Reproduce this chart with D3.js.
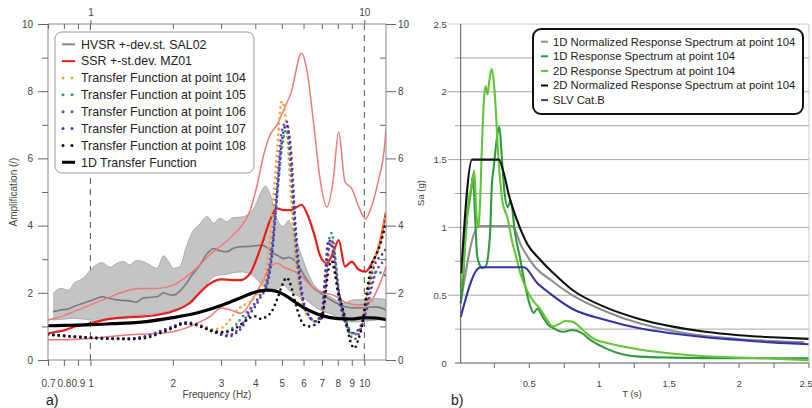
<!DOCTYPE html>
<html>
<head>
<meta charset="utf-8">
<script src="https://cdn.jsdelivr.net/npm/d3@7"></script>
<style>
  body { margin: 0; background: #fff; }
  svg { display: block; font-family: "Liberation Sans", Arial, sans-serif; }
</style>
</head>
<body>
<svg id="chart" width="812" height="408"></svg>
<script>

/**
 * Data, panel a) - amplification vs frequency
 */

const FREQ_TICKS = [0.7, 0.8, 0.9, 1, 2, 3, 4, 5, 6, 7, 8, 9, 10];
const FREQ_MINOR_TOP = [0.7, 0.8, 0.9, 2, 3, 4, 5, 6, 7, 8, 9];
const AMP_TICKS = [0, 2, 4, 6, 8, 10];
const AMP_MINOR = [1, 3, 5, 7, 9];

const hvsrFreq = [0.73, 0.78, 0.83, 0.87, 0.94, 1.0, 1.05, 1.1, 1.18, 1.25, 1.32, 1.39, 1.47, 1.55, 1.63, 1.75, 1.85, 1.93, 2.01, 2.12, 2.24, 2.36, 2.49, 2.67, 2.82, 2.97, 3.14, 3.32, 3.53, 3.8, 4.0, 4.2, 4.35, 4.5, 4.66, 4.86, 5.06, 5.28, 5.5, 5.75, 6.1, 6.5, 6.9, 7.5, 8.4, 9.1, 10.0, 11.1, 12.0];
const hvsrUpper = [1.98, 2.13, 2.08, 2.28, 2.43, 2.68, 2.83, 2.90, 2.76, 2.88, 2.93, 2.83, 2.96, 2.93, 2.85, 2.73, 3.10, 2.93, 2.73, 2.78, 3.37, 3.82, 4.02, 4.27, 4.07, 4.22, 4.12, 4.24, 4.25, 4.35, 4.60, 5.00, 5.18, 5.00, 4.60, 4.10, 3.97, 4.15, 3.87, 3.37, 2.78, 2.28, 2.05, 1.88, 1.69, 1.79, 1.79, 1.83, 1.79];
const hvsrLower = [1.19, 1.21, 1.23, 1.24, 1.22, 1.19, 1.14, 1.20, 1.24, 1.27, 1.29, 1.31, 1.33, 1.35, 1.37, 1.39, 1.42, 1.46, 1.49, 1.55, 1.62, 1.72, 1.95, 2.28, 2.48, 2.53, 2.55, 2.60, 2.62, 2.58, 2.45, 2.25, 2.15, 2.10, 2.08, 2.15, 2.23, 2.10, 1.98, 1.90, 1.80, 1.62, 1.49, 1.38, 1.18, 1.13, 1.15, 1.19, 1.20];
const hvsrMean = [1.44, 1.49, 1.52, 1.59, 1.69, 1.76, 1.83, 1.88, 1.83, 1.79, 1.77, 1.76, 1.72, 1.84, 1.86, 1.88, 2.00, 1.95, 1.93, 2.05, 2.28, 2.55, 2.78, 3.17, 3.32, 3.25, 3.22, 3.32, 3.37, 3.38, 3.40, 3.42, 3.38, 3.30, 3.17, 3.10, 3.02, 3.05, 3.00, 2.80, 2.45, 2.15, 2.00, 1.80, 1.60, 1.55, 1.56, 1.58, 1.49];

const ssrFreq = [0.7, 0.75, 0.8, 0.87, 1.0, 1.15, 1.32, 1.52, 1.75, 2.0, 2.32, 2.49, 2.74, 3.0, 3.3, 3.53, 3.83, 4.06, 4.29, 4.53, 4.8, 5.08, 5.4, 5.9, 6.17, 6.53, 6.9, 7.3, 7.7, 8.06, 8.5, 9.0, 9.5, 10.1, 10.65, 11.3, 11.8, 12.0];
const ssrMean = [0.79, 0.84, 0.88, 0.99, 1.09, 1.21, 1.26, 1.29, 1.34, 1.45, 1.72, 1.98, 2.28, 2.40, 2.38, 2.38, 2.58, 3.05, 3.60, 4.17, 4.51, 4.46, 4.46, 4.62, 4.37, 3.80, 3.10, 2.88, 3.20, 3.57, 2.78, 2.93, 2.70, 2.63, 2.88, 3.37, 4.07, 4.40];
const ssrUpper = [1.19, 1.25, 1.32, 1.44, 1.64, 1.84, 2.03, 2.13, 2.13, 2.23, 2.58, 2.80, 3.15, 3.40, 3.70, 3.95, 4.45, 5.20, 6.10, 6.70, 7.00, 7.45, 7.95, 9.13, 8.63, 7.04, 5.36, 4.55, 5.36, 6.79, 5.30, 5.10, 4.60, 4.20, 4.60, 5.40, 6.20, 6.85];
const ssrLower = [0.60, 0.60, 0.60, 0.61, 0.64, 0.69, 0.74, 0.77, 0.79, 0.84, 1.00, 1.12, 1.30, 1.55, 1.47, 1.39, 1.69, 2.05, 2.40, 2.78, 2.88, 2.76, 2.68, 2.50, 2.33, 2.15, 2.03, 1.98, 1.93, 1.85, 1.72, 1.66, 1.64, 1.66, 1.78, 2.20, 2.60, 2.80];

const tfFreq = [0.7, 0.8, 0.9, 1.0, 1.2, 1.4, 1.6, 1.8, 2.0, 2.2, 2.4, 2.6, 2.8, 3.0, 3.2, 3.4, 3.6, 3.8, 4.0, 4.2, 4.4, 4.6, 4.8, 5.0, 5.2, 5.4, 5.6, 5.8, 6.0, 6.3, 6.6, 7.0, 7.2, 7.4, 7.6, 7.8, 8.0, 8.3, 8.6, 8.9, 9.2, 9.5, 9.8, 10.2, 10.6, 11.0, 11.5, 12.0];
const tf104 = [0.76, 0.72, 0.69, 0.67, 0.64, 0.64, 0.70, 0.86, 0.98, 1.10, 1.08, 1.00, 0.92, 0.95, 1.15, 1.45, 1.62, 1.70, 1.90, 2.20, 2.80, 4.30, 6.20, 7.70, 6.90, 4.90, 3.10, 2.10, 1.55, 1.25, 1.15, 1.40, 2.30, 3.20, 3.50, 3.00, 2.20, 1.50, 1.10, 0.85, 0.75, 0.85, 1.10, 1.90, 2.60, 3.10, 3.70, 4.40];
const tf105 = [0.75, 0.71, 0.68, 0.66, 0.63, 0.63, 0.70, 0.84, 0.97, 1.09, 1.07, 0.98, 0.88, 0.84, 0.88, 1.05, 1.30, 1.50, 1.72, 1.95, 2.20, 3.20, 4.80, 6.30, 6.85, 5.60, 3.50, 2.30, 1.65, 1.30, 1.15, 1.30, 2.40, 3.50, 3.78, 3.20, 2.30, 1.55, 1.15, 0.85, 0.75, 0.85, 1.05, 1.60, 2.20, 2.60, 2.60, 2.50];
const tf106 = [0.76, 0.72, 0.69, 0.67, 0.64, 0.64, 0.71, 0.86, 0.99, 1.11, 1.08, 0.97, 0.85, 0.79, 0.74, 0.85, 1.10, 1.45, 1.70, 2.00, 2.35, 3.40, 5.20, 6.80, 7.10, 5.90, 3.80, 2.40, 1.70, 1.30, 1.15, 1.25, 2.10, 3.20, 3.55, 3.10, 2.30, 1.50, 1.05, 0.72, 0.62, 0.75, 1.00, 1.50, 2.10, 2.60, 2.85, 3.00];
const tf107 = [0.76, 0.72, 0.69, 0.67, 0.64, 0.64, 0.71, 0.86, 0.99, 1.12, 1.08, 0.96, 0.84, 0.75, 0.70, 0.80, 1.00, 1.35, 1.60, 1.90, 2.20, 3.10, 4.90, 6.50, 7.00, 6.20, 4.10, 2.60, 1.75, 1.30, 1.15, 1.40, 2.60, 3.57, 3.40, 2.80, 2.00, 1.40, 1.00, 0.85, 0.80, 0.90, 1.10, 1.80, 2.50, 2.90, 3.10, 3.30];
const tf108 = [0.76, 0.72, 0.68, 0.66, 0.63, 0.62, 0.66, 0.80, 0.95, 1.08, 1.05, 0.95, 0.85, 0.82, 0.85, 0.95, 1.10, 1.25, 1.30, 1.22, 1.30, 1.45, 1.80, 2.20, 2.45, 2.20, 1.70, 1.30, 1.05, 1.00, 1.05, 1.25, 1.90, 2.70, 2.95, 2.60, 2.10, 1.60, 1.10, 0.55, 0.35, 0.60, 1.00, 2.00, 2.80, 3.10, 3.50, 4.10];

const tf1dFreq = [0.7, 0.8, 1.0, 1.2, 1.5, 2.0, 2.5, 3.0, 3.5, 4.0, 4.4, 4.8, 5.2, 5.6, 6.0, 6.5, 7.0, 8.0, 9.0, 10.0, 11.0, 12.0];
const tf1dAmp = [1.02, 1.03, 1.05, 1.08, 1.12, 1.26, 1.42, 1.62, 1.84, 2.02, 2.08, 2.04, 1.90, 1.72, 1.56, 1.42, 1.32, 1.23, 1.22, 1.26, 1.25, 1.20];


/**
 * Data, panel b) - response spectra
 */

const T_TICKS = [0.25, 0.5, 0.75, 1, 1.25, 1.5, 1.75, 2, 2.25, 2.5];
const T_LABELS = [0.5, 1, 1.5, 2, 2.5];
const SA_GRID = [0.25, 0.5, 0.75, 1, 1.25, 1.5, 1.75, 2, 2.25, 2.5];
const SA_LABELS = [0, 0.5, 1, 1.5, 2, 2.5];

const tNorm1d = [0.013, 0.143, 0.381, 0.448, 0.543, 0.66, 0.81, 1.05, 1.29, 1.52, 1.76, 2.0, 2.24, 2.47];
const saNorm1d = [0.44, 1.01, 1.01, 0.86, 0.71, 0.61, 0.50, 0.38, 0.293, 0.238, 0.20, 0.177, 0.162, 0.152];

const tResp1d = [0.013, 0.03, 0.05, 0.07, 0.09, 0.1, 0.115, 0.13, 0.15, 0.165, 0.19, 0.21, 0.225, 0.235, 0.25, 0.265, 0.29, 0.305, 0.325, 0.35, 0.37, 0.4, 0.44, 0.476, 0.51, 0.535, 0.56, 0.6, 0.64, 0.67, 0.74, 0.81, 0.88, 0.94, 1.05, 1.17, 1.29, 1.52, 2.0, 2.5];
const saResp1d = [0.44, 0.62, 1.0, 1.15, 1.3, 1.38, 1.1, 0.8, 0.72, 0.70, 0.71, 0.8, 1.0, 1.3, 1.45, 1.6, 1.74, 1.55, 1.27, 1.15, 1.2, 0.97, 0.76, 0.56, 0.42, 0.37, 0.40, 0.34, 0.28, 0.26, 0.23, 0.243, 0.22, 0.17, 0.108, 0.064, 0.047, 0.04, 0.035, 0.035];

const tResp2d = [0.013, 0.03, 0.05, 0.07, 0.09, 0.11, 0.125, 0.14, 0.15, 0.165, 0.18, 0.19, 0.205, 0.215, 0.235, 0.25, 0.265, 0.28, 0.295, 0.31, 0.33, 0.345, 0.365, 0.38, 0.405, 0.44, 0.49, 0.53, 0.58, 0.63, 0.67, 0.72, 0.76, 0.81, 0.86, 0.91, 0.98, 1.05, 1.12, 1.29, 1.52, 1.76, 2.0, 2.25, 2.5];
const saResp2d = [0.56, 0.68, 0.95, 1.2, 1.3, 1.42, 1.1, 1.0, 1.15, 1.6, 1.95, 2.04, 1.98, 2.06, 2.17, 2.07, 1.85, 1.55, 1.35, 1.2, 1.12, 1.08, 0.98, 0.9, 0.8, 0.66, 0.53, 0.46, 0.40, 0.32, 0.27, 0.29, 0.31, 0.305, 0.27, 0.22, 0.17, 0.15, 0.133, 0.1, 0.07, 0.05, 0.04, 0.032, 0.02];

const tNorm2d = [0.016, 0.095, 0.286, 0.321, 0.357, 0.417, 0.488, 0.583, 0.679, 0.81, 1.05, 1.29, 1.52, 1.76, 2.0, 2.24, 2.5];
const saNorm2d = [0.66, 1.5, 1.5, 1.40, 1.24, 1.05, 0.88, 0.76, 0.66, 0.54, 0.41, 0.325, 0.27, 0.23, 0.205, 0.19, 0.178];

const tSlv = [0.013, 0.155, 0.464, 0.56, 0.655, 0.81, 1.05, 1.29, 1.52, 1.76, 2.0, 2.24, 2.5];
const saSlv = [0.34, 0.706, 0.706, 0.59, 0.51, 0.40, 0.317, 0.256, 0.219, 0.19, 0.17, 0.152, 0.138];


/**
 * Helpers
 */

const svg = d3.select('#chart');

function styleAxis(g, size) {
  g.select('.domain').remove();
  g.selectAll('line').attr('stroke', '#666');
  g.selectAll('text')
    .attr('fill', '#444')
    .style('font-size', size + 'px')
    .style('font-family', '"Liberation Sans", Arial, sans-serif');
}

function drawLegend(g, box, rows, opt) {
  g.append('rect')
    .attr('x', box.x).attr('y', box.y)
    .attr('width', box.w).attr('height', box.h)
    .attr('rx', opt.rx).attr('fill', '#fff')
    .attr('stroke', opt.stroke).attr('stroke-width', opt.strokeWidth);

  rows.forEach((row, i) => {
    const cy = opt.y0 + i * opt.step;
    if (row.dots) {
      [0, 9].forEach(dx => {
        g.append('circle').attr('cx', opt.sx0 + 1 + dx).attr('cy', cy)
          .attr('r', 1.5).attr('fill', row.color);
      });
    } else {
      g.append('line')
        .attr('x1', opt.sx0).attr('x2', opt.sx1)
        .attr('y1', cy).attr('y2', cy)
        .attr('stroke', row.color).attr('stroke-width', row.width || 2);
    }
    g.append('text')
      .attr('x', opt.tx).attr('y', cy).attr('dy', '0.35em')
      .attr('fill', '#222').style('font-size', opt.fontSize + 'px')
      .text(row.label);
  });
}


/**
 * Panel a)
 */

const xF = d3.scaleLog().domain([0.7, 12]).range([48, 386]);
const yA = d3.scaleLinear().domain([0, 10]).range([360, 24]);

const panelA = svg.append('g');

panelA.append('clipPath').attr('id', 'clipA')
  .append('rect').attr('x', 48).attr('y', 24).attr('width', 338).attr('height', 336);

const lineA = d3.line()
  .x(d => xF(d[0])).y(d => yA(d[1]))
  .curve(d3.curveMonotoneX);

const areaA = d3.area()
  .x(d => xF(d[0])).y0(d => yA(d[1])).y1(d => yA(d[2]))
  .curve(d3.curveMonotoneX);

// dashed verticals at 1 Hz and 10 Hz
[1, 10].forEach(f => {
  panelA.append('line')
    .attr('x1', xF(f)).attr('x2', xF(f))
    .attr('y1', yA(10)).attr('y2', yA(0))
    .attr('stroke', '#555').attr('stroke-dasharray', '6,5');
});

const plotA = panelA.append('g').attr('clip-path', 'url(#clipA)');

plotA.append('path')
  .datum(d3.zip(hvsrFreq, hvsrLower, hvsrUpper))
  .attr('d', areaA)
  .attr('fill', '#c4c4c4');

[hvsrUpper, hvsrLower].forEach(edge => {
  plotA.append('path')
    .datum(d3.zip(hvsrFreq, edge))
    .attr('d', lineA)
    .attr('fill', 'none').attr('stroke', '#9e9e9e').attr('stroke-width', 0.8);
});

plotA.append('path')
  .datum(d3.zip(hvsrFreq, hvsrMean))
  .attr('d', lineA)
  .attr('fill', 'none').attr('stroke', '#7a7a7a').attr('stroke-width', 1.6);

[ssrUpper, ssrLower].forEach(edge => {
  plotA.append('path')
    .datum(d3.zip(ssrFreq, edge))
    .attr('d', lineA)
    .attr('fill', 'none').attr('stroke', '#f07878').attr('stroke-width', 1.5);
});

plotA.append('path')
  .datum(d3.zip(ssrFreq, ssrMean))
  .attr('d', lineA)
  .attr('fill', 'none').attr('stroke', '#e81e1a').attr('stroke-width', 2.2);

const tfSeries = [
  { values: tf104, color: '#f4a43c' },
  { values: tf105, color: '#2e9a66' },
  { values: tf106, color: '#8c38a8' },
  { values: tf107, color: '#3a3eb2' },
  { values: tf108, color: '#111111' },
];

tfSeries.forEach(s => {
  plotA.append('path')
    .datum(d3.zip(tfFreq, s.values))
    .attr('d', lineA)
    .attr('fill', 'none')
    .attr('stroke', s.color)
    .attr('stroke-width', 2.7)
    .attr('stroke-linecap', 'round')
    .attr('stroke-dasharray', '0,5.4');
});

plotA.append('path')
  .datum(d3.zip(tf1dFreq, tf1dAmp))
  .attr('d', lineA)
  .attr('fill', 'none').attr('stroke', '#000').attr('stroke-width', 3.2);

// frame
panelA.append('rect')
  .attr('x', 48).attr('y', 24).attr('width', 338).attr('height', 336)
  .attr('fill', 'none').attr('stroke', '#888');

// axes
panelA.append('g').attr('transform', 'translate(0,360)')
  .call(d3.axisBottom(xF).tickValues(FREQ_TICKS).tickSize(6).tickPadding(14).tickFormat(d => d))
  .call(g => styleAxis(g, 10));

panelA.append('g').attr('transform', 'translate(0,24)')
  .call(d3.axisTop(xF).tickValues([1, 10]).tickSize(4).tickPadding(4).tickFormat(d => d))
  .call(g => styleAxis(g, 10));

panelA.append('g').attr('transform', 'translate(0,24)')
  .call(d3.axisTop(xF).tickValues(FREQ_MINOR_TOP).tickSize(-5).tickFormat(''))
  .call(g => styleAxis(g, 10));

panelA.append('g').attr('transform', 'translate(48,0)')
  .call(d3.axisLeft(yA).tickValues(AMP_TICKS).tickSize(10).tickPadding(5))
  .call(g => styleAxis(g, 10));

panelA.append('g').attr('transform', 'translate(48,0)')
  .call(d3.axisLeft(yA).tickValues(AMP_MINOR).tickSize(6).tickFormat(''))
  .call(g => styleAxis(g, 10));

panelA.append('g').attr('transform', 'translate(386,0)')
  .call(d3.axisRight(yA).tickValues(AMP_TICKS).tickSize(10).tickPadding(2))
  .call(g => styleAxis(g, 10));

panelA.append('g').attr('transform', 'translate(386,0)')
  .call(d3.axisRight(yA).tickValues(AMP_MINOR).tickSize(-6).tickFormat(''))
  .call(g => styleAxis(g, 10));

panelA.append('text')
  .attr('x', 217).attr('y', 397.5).attr('text-anchor', 'middle')
  .attr('fill', '#444').style('font-size', '10px')
  .text('Frequency (Hz)');

panelA.append('text')
  .attr('transform', 'translate(17,192) rotate(-90)')
  .attr('text-anchor', 'middle')
  .attr('fill', '#444').style('font-size', '10px')
  .text('Amplification (/)');

panelA.append('text')
  .attr('x', 46).attr('y', 405)
  .attr('fill', '#222').style('font-size', '14px')
  .text('a)');

drawLegend(panelA.append('g'), { x: 55, y: 32, w: 199, h: 141 }, [
  { label: 'HVSR +-dev.st. SAL02', color: '#888' },
  { label: 'SSR +-st.dev. MZ01', color: '#e81e1a' },
  { label: 'Transfer Function at point 104', color: '#f4a43c', dots: true },
  { label: 'Transfer Function at point 105', color: '#2e9a66', dots: true },
  { label: 'Transfer Function at point 106', color: '#8c38a8', dots: true },
  { label: 'Transfer Function at point 107', color: '#3a3eb2', dots: true },
  { label: 'Transfer Function at point 108', color: '#111', dots: true },
  { label: '1D Transfer Function', color: '#000', width: 3 },
], { rx: 7, stroke: '#9a9a9a', strokeWidth: 1, y0: 44.3, step: 16.85,
     sx0: 62, sx1: 75, tx: 81, fontSize: 12.4 });


/**
 * Panel b)
 */

const xT = d3.scaleLinear().domain([0.013, 2.5]).range([460.7, 808.5]);
const ySa = d3.scaleLinear().domain([0, 2.5]).range([363, 24]);

const panelB = svg.append('g');

SA_GRID.forEach(v => {
  const major = SA_LABELS.indexOf(v) !== -1;
  panelB.append('line')
    .attr('x1', major ? 448 : 455).attr('x2', 809)
    .attr('y1', ySa(v)).attr('y2', ySa(v))
    .attr('stroke', v === 2.5 ? '#c8c8c8' : '#a6a6a6').attr('stroke-width', 1);
});

panelB.append('line')
  .attr('x1', 809).attr('x2', 809).attr('y1', ySa(2.5)).attr('y2', ySa(0))
  .attr('stroke', '#c8c8c8');

const lineB = d3.line()
  .x(d => xT(d[0])).y(d => ySa(d[1]))
  .curve(d3.curveMonotoneX);

const spectra = [
  { t: tNorm1d, sa: saNorm1d, color: '#8e8e8e', label: '1D Normalized Response Spectrum at point 104' },
  { t: tResp1d, sa: saResp1d, color: '#2f9a3e', label: '1D Response Spectrum at point 104' },
  { t: tResp2d, sa: saResp2d, color: '#62c437', label: '2D Response Spectrum at point 104' },
  { t: tNorm2d, sa: saNorm2d, color: '#111111', label: '2D Normalized Response Spectrum at point 104' },
  { t: tSlv, sa: saSlv, color: '#3434a8', label: 'SLV Cat.B' },
];

spectra.forEach(s => {
  panelB.append('path')
    .datum(d3.zip(s.t, s.sa))
    .attr('d', lineB)
    .attr('fill', 'none').attr('stroke', s.color).attr('stroke-width', 2.1)
    .attr('stroke-linejoin', 'round');
});

// axis lines
panelB.append('line')
  .attr('x1', 460.7).attr('x2', 460.7).attr('y1', 24).attr('y2', 363)
  .attr('stroke', '#555');
panelB.append('line')
  .attr('x1', 455).attr('x2', 809).attr('y1', 363).attr('y2', 363)
  .attr('stroke', '#555');

panelB.append('g').attr('transform', 'translate(0,363)')
  .call(d3.axisBottom(xT).tickValues(T_TICKS).tickSize(5).tickFormat(''))
  .call(g => styleAxis(g, 9.5));

panelB.append('g').attr('transform', 'translate(0,363)')
  .call(d3.axisBottom(xT).tickValues(T_LABELS).tickSize(0).tickPadding(17).tickFormat(d => d))
  .call(g => styleAxis(g, 9.5))
  // the last label sits on the page edge: pull it in so it stays readable
  .call(g => g.selectAll('.tick').filter(d => d === 2.5).select('text')
    .attr('text-anchor', 'end').attr('dx', '0.4em'));

panelB.append('g').attr('transform', 'translate(460.7,0)')
  .call(d3.axisLeft(ySa).tickValues(SA_LABELS).tickSize(0).tickPadding(14).tickFormat(d => d))
  .call(g => styleAxis(g, 9.5));

panelB.append('text')
  .attr('x', 632).attr('y', 396.5).attr('text-anchor', 'middle')
  .attr('fill', '#444').style('font-size', '9.5px')
  .text('T (s)');

panelB.append('text')
  .attr('transform', 'translate(424,193) rotate(-90)')
  .attr('text-anchor', 'middle')
  .attr('fill', '#444').style('font-size', '9.5px')
  .text('Sa (g)');

panelB.append('text')
  .attr('x', 451).attr('y', 405)
  .attr('fill', '#222').style('font-size', '14px')
  .text('b)');

drawLegend(panelB.append('g'), { x: 533, y: 29, w: 270, h: 85 },
  spectra.map(s => ({ label: s.label, color: s.color })),
  { rx: 8, stroke: '#111', strokeWidth: 2, y0: 41.7, step: 14.6,
    sx0: 541, sx1: 548, tx: 553, fontSize: 11.3 });

</script>
</body>
</html>
